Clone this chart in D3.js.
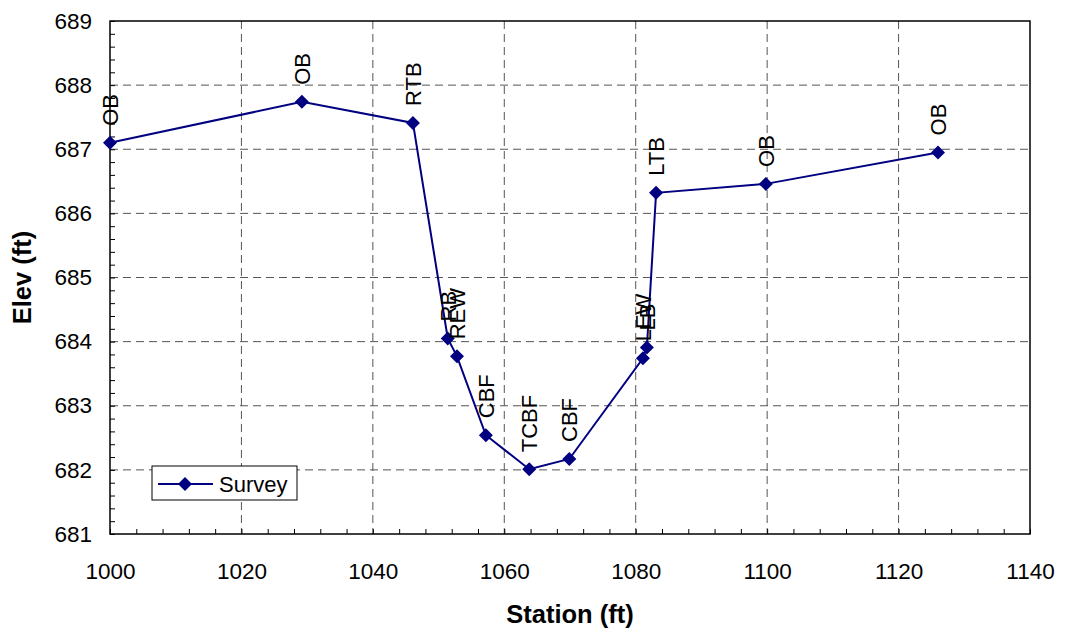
<!DOCTYPE html>
<html><head><meta charset="utf-8">
<script src="https://cdn.jsdelivr.net/npm/d3@7"></script>
<style>body{margin:0;background:#fff}svg{display:block}text{font-family:"Liberation Sans",Arial,sans-serif}</style>
</head><body><svg id="c" width="1066" height="632"></svg>
<script>
const stations = [1000, 1029.2, 1046.1, 1051.4, 1052.8, 1057.2, 1063.8, 1069.9, 1081.1, 1081.7, 1083.1, 1099.8, 1126.0];
const elevations = [687.10, 687.74, 687.41, 684.05, 683.77, 682.54, 682.01, 682.17, 683.74, 683.91, 686.32, 686.46, 686.95];
const pointLabels = ["OB", "OB", "RTB", "RB", "REW", "CBF", "TCBF", "CBF", "LEW", "LB", "LTB", "OB", "OB"];
const xTicks = [1000, 1020, 1040, 1060, 1080, 1100, 1120, 1140];
const yTicks = [681, 682, 683, 684, 685, 686, 687, 688, 689];
const seriesName = "Survey";

const svg = d3.select("#c");
const L = 110, R = 1030, T = 21, B = 534;
const x = d3.scaleLinear().domain([1000, 1140]).range([L, R]);
const y = d3.scaleLinear().domain([681, 689]).range([B, T]);
const navy = "#000080";

// grid
const g = svg.append("g");
g.selectAll(".gx").data(xTicks.slice(1, -1)).join("line")
  .attr("x1", d => x(d)).attr("x2", d => x(d)).attr("y1", T).attr("y2", B)
  .attr("stroke", "#555").attr("stroke-width", 1).attr("stroke-dasharray", "8,5");
g.selectAll(".gy").data(yTicks.slice(1, -1)).join("line")
  .attr("y1", d => y(d)).attr("y2", d => y(d)).attr("x1", L).attr("x2", R)
  .attr("stroke", "#555").attr("stroke-width", 1).attr("stroke-dasharray", "8,5");

// frame
svg.append("rect").attr("x", L).attr("y", T).attr("width", R - L).attr("height", B - T)
  .attr("fill", "none").attr("stroke", "#000").attr("stroke-width", 1.5);

// axes
const minorX = d3.range(1000, 1141, 4);
const minorY = d3.range(681, 689.001, 0.2);
svg.append("g").attr("transform", `translate(0,${B})`)
  .call(d3.axisBottom(x).tickValues(minorX).tickSize(-5).tickFormat(""))
  .call(a => a.select(".domain").remove())
  .call(a => a.selectAll("line").attr("stroke", "#000"));
svg.append("g").attr("transform", `translate(${L},0)`)
  .call(d3.axisLeft(y).tickValues(minorY).tickSize(-5).tickFormat(""))
  .call(a => a.select(".domain").remove())
  .call(a => a.selectAll("line").attr("stroke", "#000"));
svg.append("g").attr("transform", `translate(0,${B})`)
  .call(d3.axisBottom(x).tickValues(xTicks).tickSize(0).tickPadding(29).tickFormat(d3.format("d")))
  .call(a => a.select(".domain").remove())
  .call(a => a.selectAll("text").attr("font-size", 22.5).attr("fill", "#000").attr("font-family", "Liberation Sans, Arial"));
svg.append("g").attr("transform", `translate(${L},0)`)
  .call(d3.axisLeft(y).tickValues(yTicks).tickSize(0).tickPadding(18).tickFormat(d3.format("d")))
  .call(a => a.select(".domain").remove())
  .call(a => a.selectAll("text").attr("font-size", 22.5).attr("fill", "#000").attr("font-family", "Liberation Sans, Arial"));

// titles
svg.append("text").attr("x", (L + R) / 2).attr("y", 623).attr("text-anchor", "middle")
  .attr("font-size", 25.5).attr("font-weight", "bold").text("Station (ft)");
svg.append("text").attr("transform", `translate(31,${(T + B) / 2}) rotate(-90)`).attr("text-anchor", "middle")
  .attr("font-size", 25.5).attr("font-weight", "bold").text("Elev (ft)");

// series
const data = stations.map((s, i) => ({ s, e: elevations[i], l: pointLabels[i] }));
svg.append("path").datum(data)
  .attr("d", d3.line().x(d => x(d.s)).y(d => y(d.e)))
  .attr("fill", "none").attr("stroke", navy).attr("stroke-width", 2);
const diamond = "M0,-7L7,0L0,7L-7,0Z";
svg.selectAll(".pt").data(data).join("path")
  .attr("d", diamond).attr("transform", d => `translate(${x(d.s)},${y(d.e)})`).attr("fill", navy);

// point labels
svg.selectAll(".lbl").data(data).join("text")
  .attr("transform", d => `translate(${x(d.s) + 8},${y(d.e) - 17}) rotate(-90)`)
  .attr("font-size", 22).attr("fill", "#000").text(d => d.l);

// legend
const lg = svg.append("g");
lg.append("rect").attr("x", 152).attr("y", 466).attr("width", 145).attr("height", 34)
  .attr("fill", "#fff").attr("stroke", "#000").attr("stroke-width", 1);
lg.append("line").attr("x1", 158).attr("x2", 213).attr("y1", 484).attr("y2", 484)
  .attr("stroke", navy).attr("stroke-width", 2);
lg.append("path").attr("d", diamond).attr("transform", "translate(185,484)").attr("fill", navy);
lg.append("text").attr("x", 219).attr("y", 492).attr("font-size", 22).text(seriesName);
</script></body></html>
